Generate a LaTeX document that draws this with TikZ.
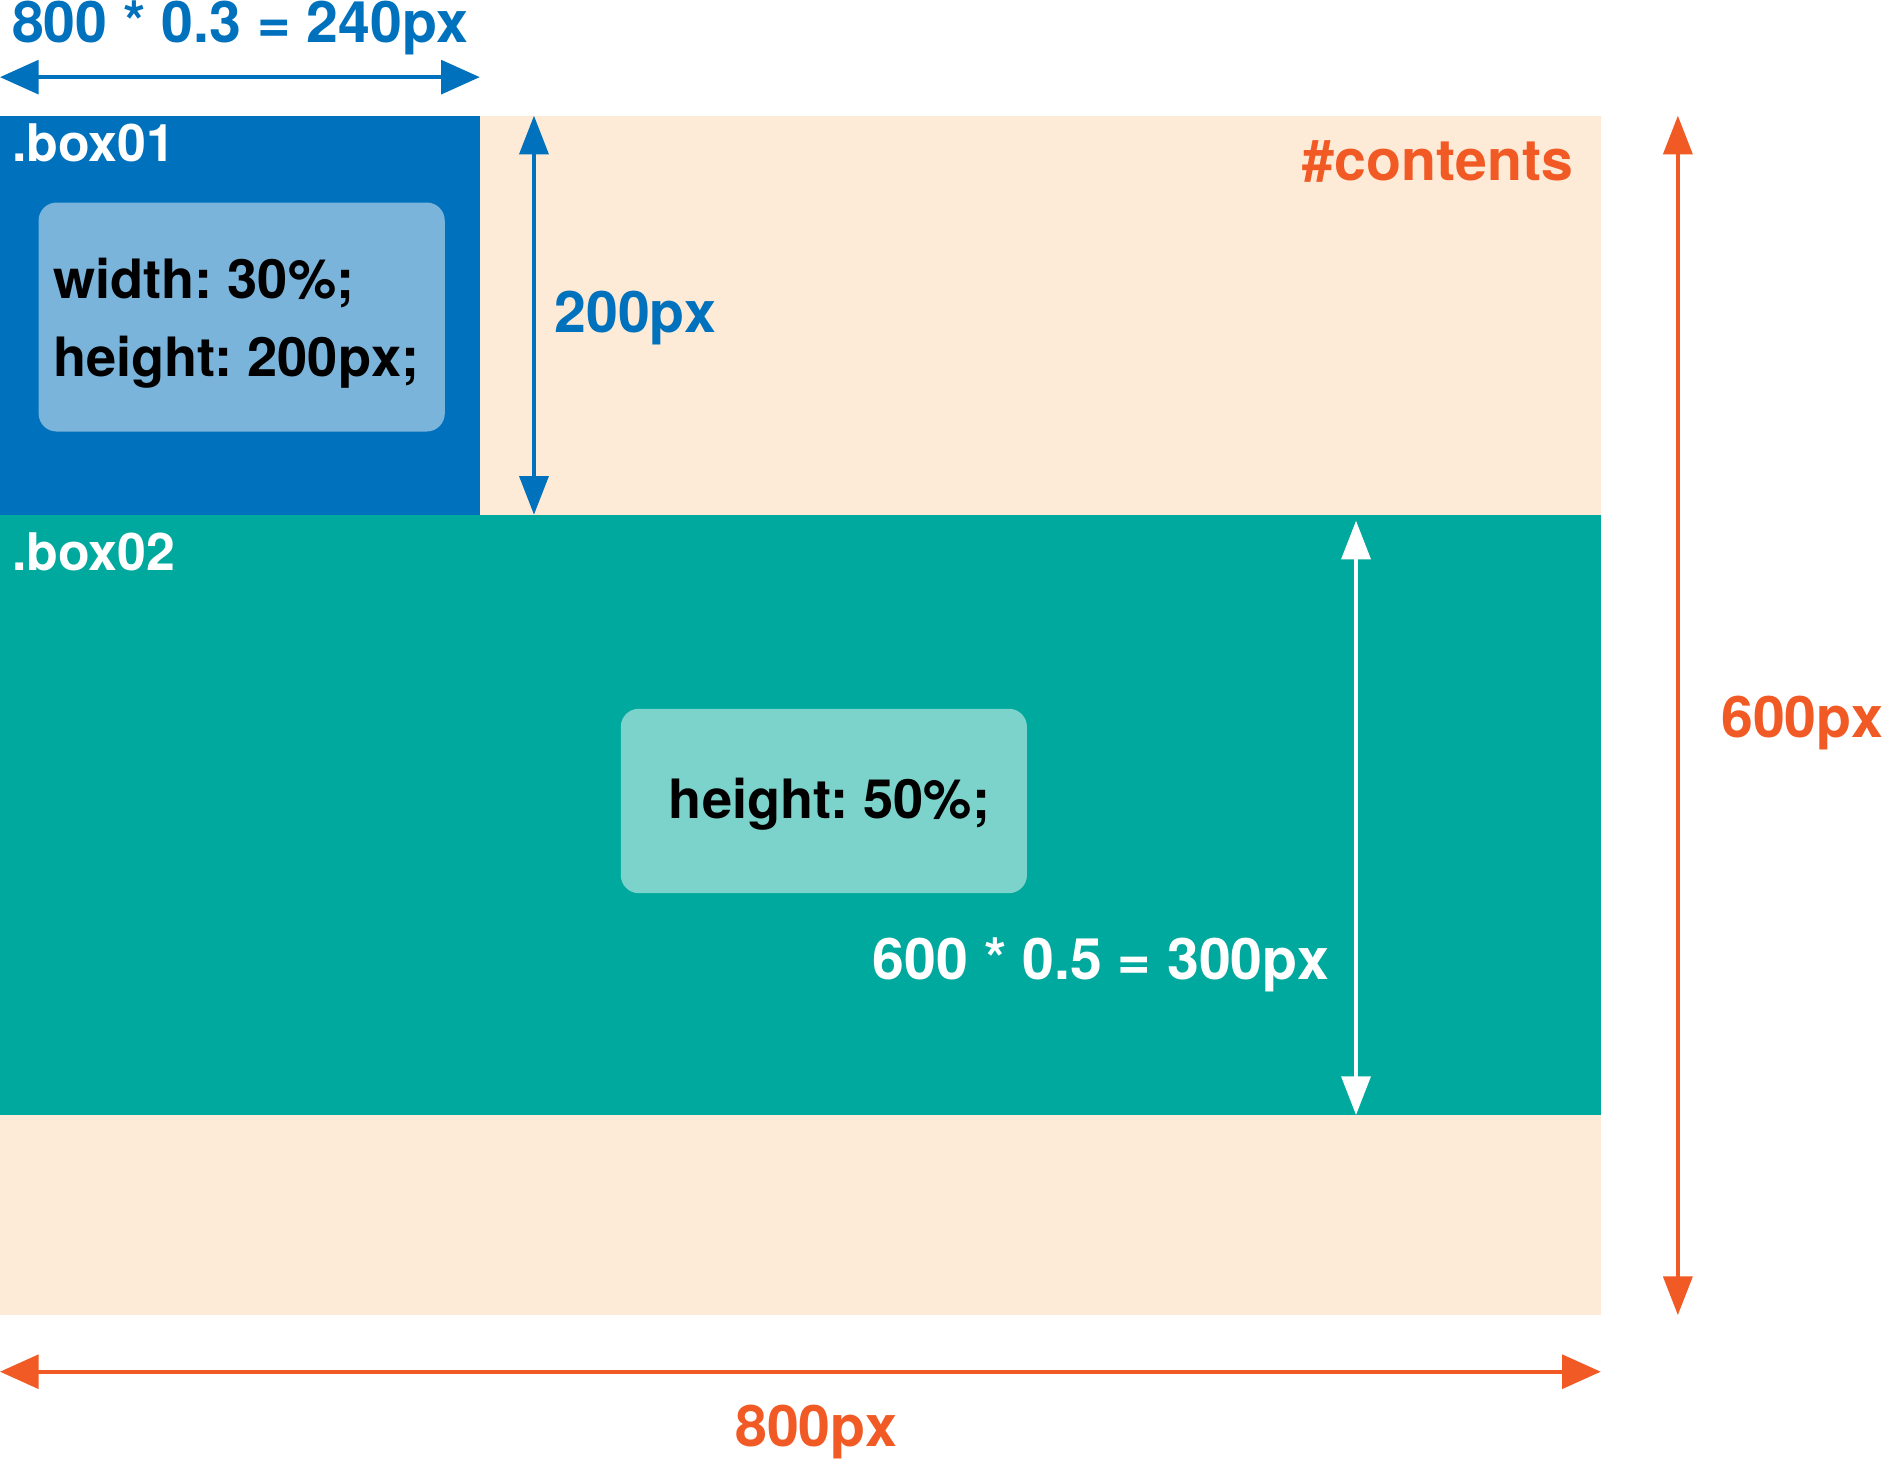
\documentclass[tikz,border=0pt]{standalone}
\usepackage{fontspec}
\setmainfont{TeX Gyre Heros}
\usetikzlibrary{arrows.meta}
\definecolor{cblue}{HTML}{0071BC}
\definecolor{clblue}{HTML}{7BB4DA}
\definecolor{cbg}{HTML}{FDEBD7}
\definecolor{cteal}{HTML}{00A99D}
\definecolor{clteal}{HTML}{7CD3CC}
\definecolor{corange}{HTML}{F15A24}
\frenchspacing
\begin{document}
\begin{tikzpicture}[x=1pt,y=-1pt,
  area/.style={anchor=north west, inner sep=0pt, outer sep=0pt, draw=none},
  inbox/.style={area, rounded corners=15pt},
  dimtext/.style={inner sep=0pt, outer sep=0pt, font=\bfseries\fontsize{47.5}{52}\selectfont},
  csstext/.style={inner sep=0pt, outer sep=0pt, font=\bfseries\fontsize{45}{49}\selectfont, text=black},
  boxtext/.style={inner sep=0pt, outer sep=0pt, font=\bfseries\fontsize{43}{47}\selectfont, text=white},
  dimarrow/.style={line width=3pt, {Triangle[length=32pt,width=28pt]}-{Triangle[length=32pt,width=28pt]}},
  vdimarrow/.style={line width=3pt, {Triangle[length=32pt,width=24pt]}-{Triangle[length=32pt,width=24pt]}}
]
\useasboundingbox (0,0) rectangle (1568,1218);
\fill[white] (0,0) rectangle (1568,1218);

% areas
\node[area, fill=cbg, minimum width=1328pt, minimum height=995pt] (contents) at (0,96) {};
\node[area, fill=cblue, minimum width=398pt, minimum height=331pt] (box01) at (0,96) {};
\node[area, fill=cteal, minimum width=1328pt, minimum height=498pt] (box02) at (0,427) {};
\node[inbox, fill=clblue, minimum width=337pt, minimum height=190pt] (in01) at (32,168) {};
\node[inbox, fill=clteal, minimum width=337pt, minimum height=153pt] (in02) at (515,588) {};

% labels
\node[boxtext, anchor=base west] (lb01) at (10,134) {.box01};
\node[boxtext, anchor=base west] (lb02) at (10,473) {.box02};
\node[dimtext, text=corange, anchor=base east] (lcont) at (1305,150) {\#contents};
\node[csstext, anchor=base west] (w30) at (44,248) {width: 30\%;};
\node[csstext, anchor=base west] (h200) at (44,312) {height: 200px;};
\node[csstext, anchor=base west] (h50) at (555,679) {height: 50\%;};

% dimension arrows
\coordinate (a1) at (0,64);
\coordinate (a2) at (398,64);
\draw[dimarrow, cblue] (a1) -- (a2);
\node[dimtext, text=cblue, anchor=base west] (l240) at (10,35) {800 * 0.3 = 240px};

\coordinate (b1) at (443,96);
\coordinate (b2) at (443,427);
\draw[vdimarrow, cblue] (b1) -- (b2);
\node[dimtext, text=cblue, anchor=base west] (l200) at (460,276) {200px};

\coordinate (c1) at (1125,432);
\coordinate (c2) at (1125,925);
\draw[vdimarrow, white] (c1) -- (c2);
\node[dimtext, text=white, anchor=base east] (l300) at (1103,813) {600 * 0.5 = 300px};

\coordinate (d1) at (1392,96);
\coordinate (d2) at (1392,1091);
\draw[line width=3pt, corange, {Triangle[length=32pt,width=24pt]}-{Triangle[length=32pt,width=24pt]}] (d1) -- (d2);
\node[dimtext, text=corange, anchor=base west] (l600) at (1428,612) {600px};

\coordinate (e1) at (0,1138);
\coordinate (e2) at (1328,1138);
\draw[dimarrow, corange] (e1) -- (e2);
\node[dimtext, text=corange, anchor=base west] (l800) at (610,1200) {800px};
\end{tikzpicture}
\end{document}
